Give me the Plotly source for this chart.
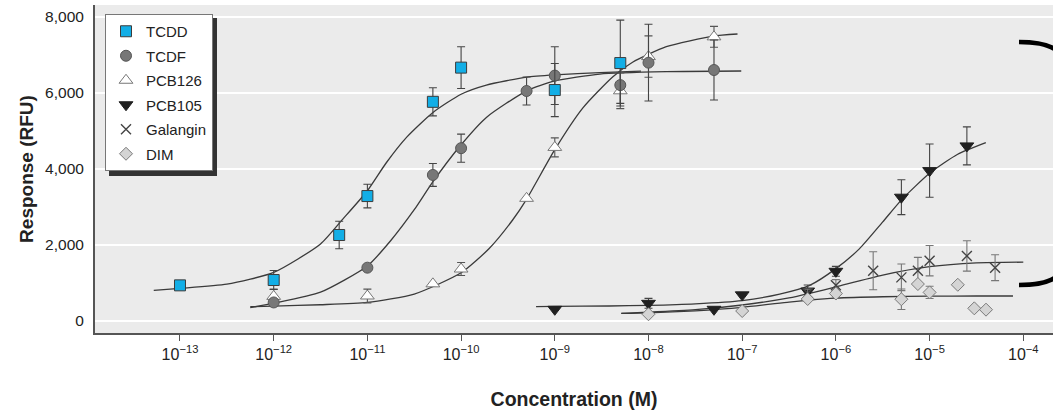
import numpy as np
import plotly.graph_objects as go

# ---------------- data ----------------
TICK_VALS = [1e-13, 1e-12, 1e-11, 1e-10, 1e-9, 1e-8, 1e-7, 1e-6, 1e-5, 1e-4]
TICK_TEXT = ["10<sup>\u221213</sup>", "10<sup>\u221212</sup>", "10<sup>\u221211</sup>",
             "10<sup>\u221210</sup>", "10<sup>\u22129</sup>", "10<sup>\u22128</sup>",
             "10<sup>\u22127</sup>", "10<sup>\u22126</sup>", "10<sup>\u22125</sup>",
             "10<sup>\u22124</sup>"]
Y_TICKS = [0, 2000, 4000, 6000, 8000]
Y_TEXT = ["0", "2,000", "4,000", "6,000", "8,000"]

tcdd_x = [1e-13, 1e-12, 5e-12, 1e-11, 5e-11, 1e-10, 1e-9, 5e-9]
tcdd_y = [930, 1070, 2255, 3280, 5760, 6660, 6070, 6780]
tcdd_e = [None, 250, 360, 310, 370, 550, 700, 1130]

tcdf_x = [1e-12, 1e-11, 5e-11, 1e-10, 5e-10, 1e-9, 5e-9, 1e-8, 5e-8]
tcdf_y = [480, 1395, 3835, 4540, 6045, 6450, 6200, 6790, 6597]
tcdf_e = [None, None, 300, 370, 370, 760, 480, 1010, 790]

pcb126_x = [1e-12, 1e-11, 5e-11, 1e-10, 5e-10, 1e-9, 5e-9, 1e-8, 5e-8]
pcb126_y = [640, 650, 970, 1360, 3220, 4560, 6050, 6950, 7470]
pcb126_e = [190, 180, None, 170, None, 250, 470, 545, 275]

pcb105_x = [1e-9, 1e-8, 5e-8, 1e-7, 5e-7, 1e-6, 5e-6, 1e-5, 2.5e-5]
pcb105_y = [300, 457, 300, 680, 780, 1300, 3250, 3950, 4600]
pcb105_e = [None, 130, None, None, 160, 130, 460, 700, 500]

gal_x = [5e-7, 1e-6, 2.5e-6, 5e-6, 7.5e-6, 1e-5, 2.5e-5, 5e-5]
gal_y = [720, 930, 1315, 1140, 1315, 1580, 1705, 1395]
gal_e = [110, 150, 500, 350, 350, 400, 400, 340]

dim_x = [1e-8, 1e-7, 5e-7, 1e-6, 5e-6, 7.5e-6, 1e-5, 2e-5, 3e-5, 4e-5]
dim_y = [170, 255, 571, 715, 565, 965, 745, 945, 325, 290]
dim_e = [None, None, None, 90, 270, None, 160, None, None, None]

# fitted curves (log10 concentration, response)
tcdd_fit_lx = [-13.28, -13.0, -12.5, -12.0, -11.5, -11.26, -11.0, -10.8, -10.58, -10.3, -10.0, -9.73, -9.3, -9.0, -8.52, -8.08]
tcdd_fit_y = [800, 850, 960, 1270, 2020, 2680, 3420, 4150, 4830, 5480, 5960, 6200, 6410, 6470, 6530, 6570]

tcdf_fit_lx = [-12.25, -12.0, -11.5, -11.0, -10.75, -10.5, -10.3, -10.0, -9.73, -9.3, -9.0, -8.52, -7.81, -7.01]
tcdf_fit_y = [342, 460, 750, 1440, 2110, 2920, 3660, 4630, 5350, 6050, 6310, 6490, 6553, 6571]

pcb126_fit_lx = [-12.25, -12.0, -11.5, -11.0, -10.5, -10.0, -9.7, -9.45, -9.3, -9.0, -8.7, -8.38, -8.17, -7.81, -7.31, -7.05]
pcb126_fit_y = [368, 385, 420, 480, 700, 1260, 1900, 2650, 3200, 4500, 5600, 6420, 6800, 7210, 7490, 7545]

pcb105_fit_lx = [-9.2, -9.0, -8.42, -8.0, -7.5, -7.0, -6.6, -6.28, -6.0, -5.75, -5.5, -5.3, -5.0, -4.7, -4.4]
pcb105_fit_y = [370, 375, 387, 405, 445, 530, 700, 930, 1370, 1890, 2600, 3180, 3880, 4380, 4684]

gal_fit_lx = [-8.29, -8.0, -7.5, -7.0, -6.5, -6.28, -6.0, -5.5, -5.0, -4.5, -4.0]
gal_fit_y = [195, 225, 290, 413, 600, 720, 890, 1200, 1420, 1520, 1540]

dim_fit_lx = [-8.29, -8.0, -7.5, -7.0, -6.5, -6.28, -6.0, -5.5, -5.0, -4.5, -4.11]
dim_fit_y = [190, 205, 260, 352, 490, 545, 595, 630, 645, 650, 650]

# ---------------- figure ----------------
W, H = 1053, 414
ML, MR, MT, MB = 95, 0, 5, 81
PW, PH = W - ML - MR, H - MT - MB

REG = "'Liberation Sans', Arial, sans-serif"

fig = go.Figure()

curve_style = dict(color="#3a3a3a", width=1.3, shape="spline", smoothing=0.6)
for lx, yy in [(tcdd_fit_lx, tcdd_fit_y), (tcdf_fit_lx, tcdf_fit_y), (pcb126_fit_lx, pcb126_fit_y),
               (pcb105_fit_lx, pcb105_fit_y), (gal_fit_lx, gal_fit_y), (dim_fit_lx, dim_fit_y)]:
    fig.add_trace(go.Scatter(x=np.power(10.0, lx), y=yy, mode="lines", line=curve_style,
                             showlegend=False, hoverinfo="skip"))


def pts(name, x, y, e, symbol, size, fill, lc, lw, ec, rank):
    return go.Scatter(
        x=x, y=y, mode="markers", name=name, legendrank=rank, legendgroup=name,
        marker=dict(symbol=symbol, size=size, color=fill, line=dict(color=lc, width=lw)),
        error_y=dict(type="data", array=e, visible=True, color=ec, thickness=1.1, width=4),
    )


fig.add_trace(pts("PCB105", pcb105_x, pcb105_y, pcb105_e, "triangle-down", 12, "#202020", "#202020", 1, "#444", 4))
fig.add_trace(pts("Galangin", gal_x, gal_y, gal_e, "x-thin", 10, "#444444", "#444444", 1.4, "#777", 5))
fig.add_trace(pts("DIM", dim_x, dim_y, dim_e, "diamond", 10, "#d4d4d4", "#7a7a7a", 1, "#777", 6))
fig.add_trace(pts("PCB126", pcb126_x, pcb126_y, pcb126_e, "triangle-up", 12, "#ffffff", "#777777", 1, "#555", 3))
fig.add_trace(pts("TCDF", tcdf_x, tcdf_y, tcdf_e, "circle", 11, "#777777", "#555555", 1, "#444", 2))
fig.add_trace(pts("TCDD", tcdd_x, tcdd_y, tcdd_e, "square", 11, "#12aee6", "#3c3c3c", 1, "#444", 1))


def px(x):
    return (x - ML) / PW


def py(y):
    return (H - MB - y) / PH


# legend shadow and black bracket marks on the right
LEG_L, LEG_T, LEG_R, LEG_B = 105, 14, 213, 172
shapes = [
    dict(type="rect", xref="paper", yref="paper", x0=px(LEG_L + 4), x1=px(LEG_R + 4),
         y0=py(LEG_B + 4), y1=py(LEG_T + 4), fillcolor="#333333", line=dict(width=0), layer="above"),
    dict(type="path", xref="paper", yref="paper",
         path=f"M {px(1019)},{py(42)} Q {px(1045)},{py(42)} {px(1056)},{py(50)}",
         line=dict(color="black", width=4.5)),
    dict(type="path", xref="paper", yref="paper",
         path=f"M {px(1019)},{py(285)} Q {px(1045)},{py(285)} {px(1056)},{py(277)}",
         line=dict(color="black", width=4.5)),
]

fig.update_layout(
    width=W, height=H,
    margin=dict(l=ML, r=MR, t=MT, b=MB, pad=0, autoexpand=False),
    paper_bgcolor="white", plot_bgcolor="#ebebeb",
    font=dict(family=REG, color="#222"),
    showlegend=True,
    legend=dict(x=px(LEG_L), y=py(LEG_T), xanchor="left", yanchor="top",
                bgcolor="white", bordercolor="#777", borderwidth=1,
                font=dict(family=REG, size=15, color="#222"),
                itemsizing="trace", tracegroupgap=2),
    shapes=shapes,
    xaxis=dict(type="log", range=[-13.907, -3.683], showgrid=False, zeroline=False,
               automargin=False,
               showline=True, linecolor="#555", linewidth=2,
               ticks="outside", ticklen=6, tickwidth=1.2, tickcolor="#555",
               tickvals=TICK_VALS, ticktext=TICK_TEXT,
               tickfont=dict(family=REG, size=16, color="#222"),
               title=dict(text="<b>Concentration (M)</b>", standoff=30,
                          font=dict(family=REG, size=19.5, color="#222"))),
    yaxis=dict(range=[-324, 8308], showgrid=True, gridcolor="white", gridwidth=1.5,
               automargin=False,
               zeroline=False, showline=True, linecolor="#555", linewidth=2,
               ticks="", tickvals=Y_TICKS, ticktext=Y_TEXT, ticklabelstandoff=6,
               tickfont=dict(family=REG, size=15.5, color="#222"),
               title=dict(text="<b>Response (RFU)</b>", standoff=6,
                          font=dict(family=REG, size=19, color="#222"))),
)

fig.write_html("out.html", config={"displayModeBar": False},
               post_script="document.body.style.margin='0';document.body.style.overflow='hidden';")
